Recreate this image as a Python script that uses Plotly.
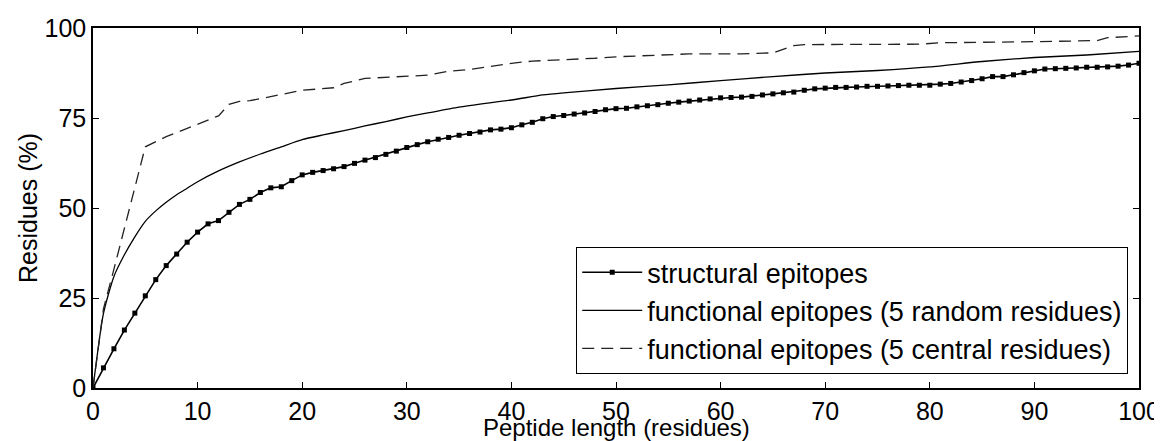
import plotly.graph_objects as go

# ---- data ----
structural_x = list(range(0, 101))
structural_y = [0, 5.6, 10.9, 16.1, 20.8, 25.6, 30.1, 34.0, 37.2, 40.5,
                43.3, 45.6, 46.5, 48.8, 51.0, 52.4, 54.3, 55.6, 55.9, 57.6,
                59.2, 59.9, 60.4, 60.9, 61.5, 62.4, 63.3, 64.0, 64.9, 65.8,
                66.8, 67.6, 68.4, 69.1, 69.6, 70.2, 70.7, 71.1, 71.7, 71.9,
                72.3, 73.1, 73.8, 74.8, 75.4, 75.7, 76.1, 76.4, 76.8, 77.3,
                77.6, 77.7, 78.1, 78.4, 78.7, 79.1, 79.4, 79.7, 80.0, 80.3,
                80.6, 80.7, 80.8, 81.0, 81.4, 81.7, 82.0, 82.2, 82.7, 83.1,
                83.3, 83.5, 83.5, 83.6, 83.8, 83.8, 83.9, 84.0, 84.1, 84.1,
                84.1, 84.4, 84.6, 85.0, 85.4, 85.9, 86.5, 86.5, 87.0, 87.6,
                88.1, 88.6, 88.7, 88.8, 88.9, 89.1, 89.1, 89.2, 89.4, 89.7,
                90.2]

random_x = [0, 1, 2, 3, 4, 5, 6, 7, 8, 9, 10, 12, 14, 16, 18, 20, 22, 24, 26, 28,
            30, 32, 35, 40, 43, 45, 50, 55, 60, 65, 70, 75, 80, 85, 90, 95, 100]
random_y = [0, 20.7, 31.0, 37.0, 42.0, 46.3, 49.2, 51.6, 53.7, 55.5, 57.3, 60.3,
            62.8, 65.0, 67.0, 69.0, 70.3, 71.5, 72.8, 74.0, 75.3, 76.4, 78.0,
            80.0, 81.4, 82.0, 83.2, 84.2, 85.4, 86.5, 87.5, 88.2, 89.2, 90.7,
            91.8, 92.5, 93.5]

central_x = [0, 1, 2, 3, 4, 5, 7, 10, 12, 13, 14, 15, 18, 20, 23, 24, 26, 28, 30,
             32, 34, 36, 38, 40, 42, 45, 48, 50, 53, 57, 62, 65, 67, 68, 79, 81,
             90, 96, 97, 100]
central_y = [0, 22.0, 33.0, 44.5, 56.0, 67.0, 69.8, 73.4, 75.6, 78.8, 79.6, 79.8,
             81.6, 82.7, 83.4, 84.6, 86.0, 86.3, 86.6, 86.9, 88.0, 88.5, 89.3,
             90.2, 90.8, 91.1, 91.6, 92.0, 92.4, 92.8, 92.8, 93.1, 95.1, 95.4,
             95.5, 95.9, 96.2, 96.5, 97.3, 97.8]

names = ["structural epitopes",
         "functional epitopes (5 random residues)",
         "functional epitopes (5 central residues)"]

x_ticks = [0, 10, 20, 30, 40, 50, 60, 70, 80, 90, 100]
y_ticks = [0, 25, 50, 75, 100]

x_title = "Peptide length (residues)"
y_title = "Residues (%)"

FONT = "Liberation Sans, Arial, Helvetica, sans-serif"

fig = go.Figure()
fig.add_trace(go.Scatter(
    x=structural_x, y=structural_y, name=names[0], mode="lines+markers",
    line=dict(color="black", width=1.6),
    marker=dict(symbol="square", size=5, color="black"),
    legendgroup="a"))
fig.add_trace(go.Scatter(
    x=random_x, y=random_y, name=names[1], mode="lines",
    line=dict(color="black", width=1.3, shape="spline", smoothing=0.6),
    legendgroup="b"))
fig.add_trace(go.Scatter(
    x=central_x, y=central_y, name=names[2], mode="lines",
    line=dict(color="#222222", width=1.3, dash="12px,7px"),
    legendgroup="c"))

axis_common = dict(
    showline=True, linecolor="black", linewidth=1.5, mirror="ticks",
    ticks="inside", ticklen=6, tickwidth=1, tickcolor="black",
    showgrid=False, zeroline=False, automargin=False,
    tickfont=dict(family=FONT, size=25, color="black"),
)

fig.update_xaxes(range=[0, 100], tickvals=x_ticks, **axis_common)
fig.update_yaxes(range=[0, 100], tickvals=y_ticks,
                 title=dict(text=y_title,
                            font=dict(family=FONT, size=25, color="black"),
                            standoff=0),
                 **axis_common)

# x-axis title as a paper-anchored annotation so it sits just inside the bottom edge
fig.add_annotation(text=x_title, xref="paper", yref="paper", x=0.5, y=0,
                   xanchor="center", yanchor="bottom", yshift=-54,
                   showarrow=False, borderpad=0,
                   font=dict(family=FONT, size=24, color="black"))

# the page body adds an 8 px offset at top/left; margins compensate for it
fig.update_layout(
    width=1162, height=441,
    margin=dict(l=85, r=31, t=20, b=61),
    paper_bgcolor="white", plot_bgcolor="white",
    font=dict(family=FONT, size=25, color="black"),
    showlegend=True,
    legend=dict(x=0.9895, y=0.039, xanchor="right", yanchor="bottom",
                bgcolor="white", bordercolor="black", borderwidth=1.2,
                font=dict(family=FONT, size=27, color="black"),
                tracegroupgap=0, itemwidth=60),
)

fig.write_html("out.html")
